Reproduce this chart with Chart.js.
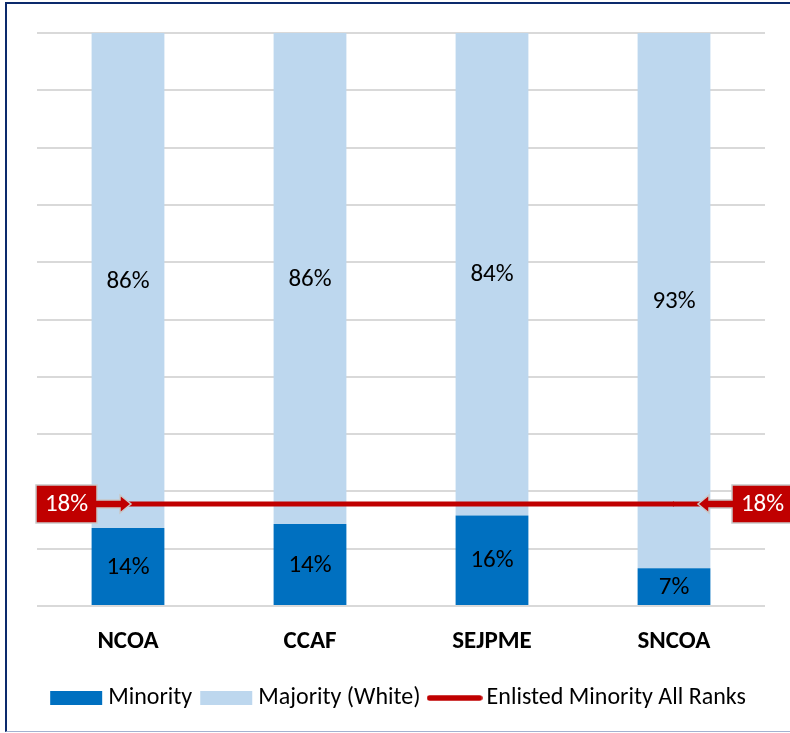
<!DOCTYPE html>
<html>
<head>
<meta charset="utf-8">
<script src="https://cdn.jsdelivr.net/npm/chart.js@4.4.1/dist/chart.umd.min.js"></script>
<style>
    html, body { margin: 0; padding: 0; background: #fff; }
    #frame {
        position: absolute; left: 5px; top: 2px; width: 820px; height: 727px;
        border-left: 2.5px solid #0c2a6c; border-top: 2.5px solid #0c2a6c;
        border-bottom: 1.5px solid #a3b2d0;
    }
    #wrap { position: absolute; left: 0; top: 0; width: 790px; height: 733px; }
</style>
</head>
<body>
<div id="frame"></div>
<div id="wrap"><canvas id="chart"></canvas></div>
<script>
// Data
const categories = ['NCOA', 'CCAF', 'SEJPME', 'SNCOA'];
const minority = [13.6, 14.3, 15.8, 6.6];
const majority = [86.4, 85.7, 84.2, 93.4];
const enlistedMinority = [17.8, 17.8, 17.8, 17.8];
const seriesNames = ['Minority', 'Majority (White)', 'Enlisted Minority All Ranks'];
const yTicks = { min: 0, max: 100, step: 10 };

const BLUE = '#0070c0';
const LIGHT = '#bdd7ee';
const RED = '#c00000';
const FONT = "Carlito, Lato, 'Liberation Sans', sans-serif";

// small canvases used as legend icons
function makeIcon(kind, color) {
    const c = document.createElement('canvas');
    c.width = 56; c.height = 16;
    const g = c.getContext('2d');
    if (kind === 'box') {
        g.fillStyle = color;
        g.fillRect(2, 1, 52, 14);
    } else {
        g.strokeStyle = color;
        g.lineWidth = 5.5;
        g.lineCap = 'round';
        g.beginPath();
        g.moveTo(3, 8);
        g.lineTo(53, 8);
        g.stroke();
    }
    return c;
}
const legendIcons = [makeIcon('box', BLUE), makeIcon('box', LIGHT), makeIcon('line', RED)];

// percent labels in the middle of each bar segment
const segmentLabels = {
    id: 'segmentLabels',
    afterDatasetsDraw(chart) {
        const ctx = chart.ctx;
        ctx.save();
        ctx.font = '25px ' + FONT;
        ctx.fillStyle = '#000';
        ctx.textAlign = 'center';
        ctx.textBaseline = 'middle';
        [0, 1].forEach(di => {
            const meta = chart.getDatasetMeta(di);
            meta.data.forEach((bar, i) => {
                const v = chart.data.datasets[di].data[i];
                ctx.fillText(Math.round(v) + '%', bar.x, (bar.y + bar.base) / 2 + 1);
            });
        });
        ctx.restore();
    }
};

// red "18%" callouts at both ends of the reference line
const callouts = {
    id: 'callouts',
    afterDatasetsDraw(chart) {
        const ctx = chart.ctx;
        const pts = chart.getDatasetMeta(2).data;
        const y = pts[0].y;
        const area = chart.chartArea;
        const text = Math.round(enlistedMinority[0]) + '%';
        const w = 61, h = 38;

        function shape(boxX, dir) {
            // dir = 1 -> arrow points right, -1 -> left
            const edge = dir === 1 ? boxX + w : boxX;
            const back = dir === 1 ? boxX : boxX + w;
            const tip = edge + dir * 34;
            const neck = tip - dir * 11;
            ctx.beginPath();
            ctx.moveTo(back, y - h / 2);
            ctx.lineTo(edge, y - h / 2);
            ctx.lineTo(edge, y - 4);
            ctx.lineTo(neck, y - 4);
            ctx.lineTo(neck, y - 9);
            ctx.lineTo(tip, y);
            ctx.lineTo(neck, y + 9);
            ctx.lineTo(neck, y + 4);
            ctx.lineTo(edge, y + 4);
            ctx.lineTo(edge, y + h / 2);
            ctx.lineTo(back, y + h / 2);
            ctx.closePath();
            ctx.fillStyle = RED;
            ctx.fill();
            ctx.strokeStyle = '#c8c8c8';
            ctx.lineWidth = 1.5;
            ctx.stroke();
            ctx.fillStyle = '#fff';
            ctx.font = '25px ' + FONT;
            ctx.textAlign = 'center';
            ctx.textBaseline = 'middle';
            ctx.fillText(text, boxX + w / 2, y + 1);
            return tip;
        }

        ctx.save();
        shape(area.left - 1, 1);
        const rightTip = area.right - 33 - 34;
        // carry the reference line on to the right-hand arrow tip
        const last = pts[pts.length - 1];
        ctx.strokeStyle = RED;
        ctx.lineWidth = 5;
        ctx.beginPath();
        ctx.moveTo(last.x - 1, y);
        ctx.lineTo(rightTip + 2, y);
        ctx.stroke();
        shape(area.right - 33, -1);
        ctx.restore();
    }
};

const ctx = document.getElementById('chart').getContext('2d');
const chart = new Chart(ctx, {
    type: 'bar',
    data: {
        labels: categories,
        datasets: [
            {
                label: seriesNames[0],
                data: minority,
                backgroundColor: BLUE,
                order: 1
            },
            {
                label: seriesNames[1],
                data: majority,
                backgroundColor: LIGHT,
                order: 1
            },
            {
                type: 'line',
                label: seriesNames[2],
                data: enlistedMinority,
                borderColor: RED,
                borderWidth: 5,
                pointRadius: 0,
                stack: 'ref',
                order: 0
            }
        ]
    },
    options: {
        responsive: true,
        maintainAspectRatio: false,
        animation: false,
        events: [],
        layout: { padding: { left: 37, right: 25, top: 33, bottom: 13 } },
        datasets: {
            bar: { categoryPercentage: 1, barPercentage: 0.4 }
        },
        scales: {
            x: {
                stacked: true,
                grid: { display: false, drawTicks: false },
                border: { display: false },
                afterFit: (scale) => { scale.height = 66; },
                ticks: {
                    padding: 21,
                    color: '#000',
                    font: { family: FONT, size: 25, weight: 'bold' }
                }
            },
            y: {
                stacked: true,
                min: yTicks.min,
                max: yTicks.max,
                grid: { color: '#d9d9d9', lineWidth: 2, drawTicks: false },
                border: { display: false },
                ticks: { display: false, stepSize: yTicks.step }
            }
        },
        plugins: {
            tooltip: { enabled: false },
            legend: {
                position: 'bottom',
                labels: {
                    usePointStyle: true,
                    pointStyleWidth: 40,
                    boxHeight: 16,
                    padding: 14,
                    color: '#000',
                    font: { family: FONT, size: 24 },
                    generateLabels: (c) => c.data.datasets.map((ds, i) => ({
                        text: ds.label,
                        pointStyle: legendIcons[i],
                        datasetIndex: i,
                        hidden: false,
                        lineWidth: 0,
                        fillStyle: 'rgba(0,0,0,0)',
                        strokeStyle: 'rgba(0,0,0,0)',
                        fontColor: '#000'
                    }))
                }
            }
        }
    },
    plugins: [segmentLabels, callouts]
});
</script>
</body>
</html>
